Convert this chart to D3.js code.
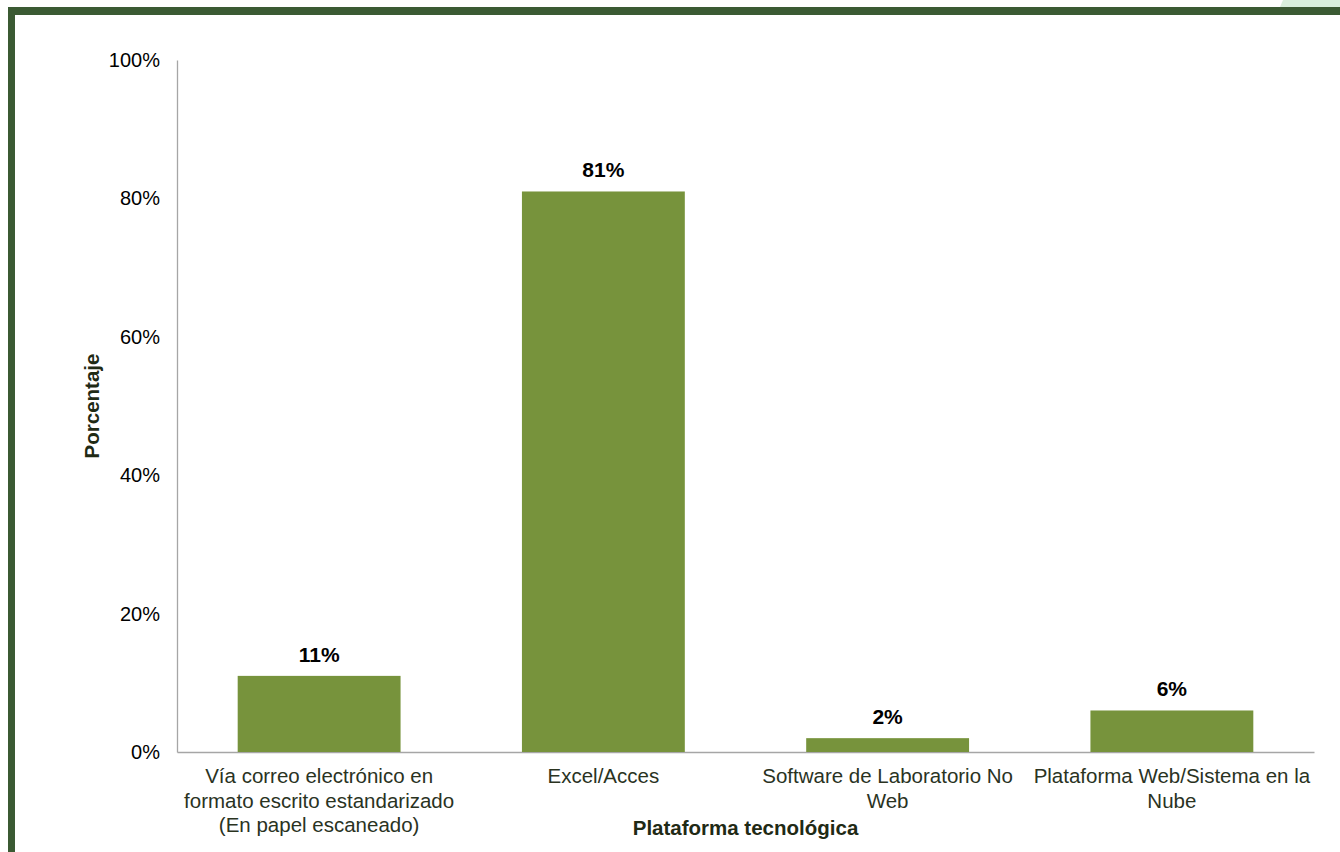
<html lang="es">
<head>
    <meta charset="UTF-8"/>
    <title>Plataforma tecnológica</title>
    <script src="https://d3js.org/d3.v7.min.js"></script>
    <style>
        body { margin: 0; background: #fff; }
        text { font-family: "Liberation Sans", Arial, sans-serif; }
    </style>
</head>
<body>
    <script>
        // data
        var categories = [
            "Vía correo electrónico en\nformato escrito estandarizado\n(En papel escaneado)",
            "Excel/Acces",
            "Software de Laboratorio No\nWeb",
            "Plataforma Web/Sistema en la\nNube"
        ];
        var values = [11, 81, 2, 6];
        var yTicks = [0, 20, 40, 60, 80, 100];

        var w = 1340;
        var h = 852;
        var plotLeft = 177, plotRight = 1314, plotTop = 60, plotBottom = 752;

        var svg = d3.select("body")
                    .append("svg")
                    .attr("width", w)
                    .attr("height", h);

        // frame
        svg.append("polygon")
            .attr("points", "1283,0 1340,0 1340,7 1280,7")
            .attr("fill", "#d9efdc");
        svg.append("rect")
            .attr("x", 8).attr("y", 7)
            .attr("width", w - 8).attr("height", 8)
            .attr("fill", "#3b5a33");
        svg.append("rect")
            .attr("x", 8).attr("y", 7)
            .attr("width", 7).attr("height", h - 7)
            .attr("fill", "#3b5a33");

        var xScale = d3.scaleBand()
                        .domain(d3.range(categories.length))
                        .range([plotLeft, plotRight])
                        .paddingInner(0.427)
                        .paddingOuter(0.2135);

        var yScale = d3.scaleLinear()
                        .domain([0, 100])
                        .range([plotBottom, plotTop]);

        // y axis
        var yAxis = d3.axisLeft(yScale)
                        .tickValues(yTicks)
                        .tickSize(0)
                        .tickPadding(17)
                        .tickFormat(function(d) { return d + "%"; });

        var gy = svg.append("g")
            .attr("transform", "translate(" + plotLeft + ",0)")
            .call(yAxis);
        gy.select(".domain").attr("stroke", "#a6a6a6").attr("stroke-width", 1.3);
        gy.selectAll("text")
            .attr("font-size", "20px")
            .attr("fill", "#000")
            .style("font-family", "Liberation Sans, Arial, sans-serif");

        // x axis line
        var xAxis = d3.axisBottom(xScale).tickSize(0).tickFormat("");
        var gx = svg.append("g")
            .attr("transform", "translate(0," + plotBottom + ")")
            .call(xAxis);
        gx.select(".domain").attr("stroke", "#a6a6a6").attr("stroke-width", 1.3);

        // bars
        svg.selectAll("rect.bar")
            .data(values)
            .enter()
            .append("rect")
            .attr("class", "bar")
            .attr("fill", "#77933c")
            .attr("x", function(d, i) { return xScale(i); })
            .attr("y", function(d) { return yScale(d); })
            .attr("width", xScale.bandwidth())
            .attr("height", function(d) { return plotBottom - yScale(d); });

        // value labels
        svg.selectAll("text.val")
            .data(values)
            .enter()
            .append("text")
            .attr("class", "val")
            .attr("x", function(d, i) { return xScale(i) + xScale.bandwidth() / 2; })
            .attr("y", function(d) { return yScale(d) - 14; })
            .attr("text-anchor", "middle")
            .attr("font-size", "21px")
            .attr("font-weight", "bold")
            .attr("fill", "#000")
            .text(function(d) { return d + "%"; });

        // category labels
        var cat = svg.selectAll("text.cat")
            .data(categories)
            .enter()
            .append("text")
            .attr("class", "cat")
            .attr("text-anchor", "middle")
            .attr("font-size", "20.5px")
            .attr("fill", "#2a331f")
            .attr("x", function(d, i) { return xScale(i) + xScale.bandwidth() / 2; })
            .attr("y", plotBottom + 31);

        cat.selectAll("tspan")
            .data(function(d, i) {
                return d.split("\n").map(function(s) { return { s: s, x: xScale(i) + xScale.bandwidth() / 2 }; });
            })
            .enter()
            .append("tspan")
            .attr("x", function(d) { return d.x; })
            .attr("dy", function(d, j) { return j === 0 ? 0 : 24.5; })
            .text(function(d) { return d.s; });

        // axis titles
        svg.append("text")
            .attr("x", (plotLeft + plotRight) / 2)
            .attr("y", 835)
            .attr("text-anchor", "middle")
            .attr("font-size", "20.5px")
            .attr("font-weight", "bold")
            .attr("fill", "#1f2a15")
            .text("Plataforma tecnológica");

        svg.append("text")
            .attr("transform", "translate(99," + (plotTop + plotBottom) / 2 + ") rotate(-90)")
            .attr("text-anchor", "middle")
            .attr("font-size", "20.5px")
            .attr("font-weight", "bold")
            .attr("fill", "#1f2a15")
            .text("Porcentaje");
    </script>
</body>
</html>
